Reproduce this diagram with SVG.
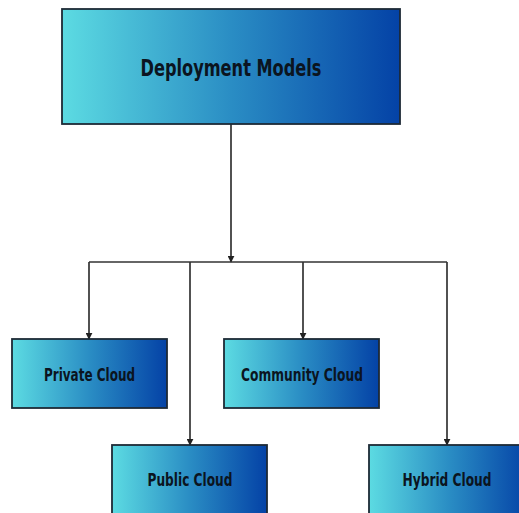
<svg xmlns="http://www.w3.org/2000/svg" width="519" height="513" viewBox="0 0 519 513">
<defs>
<linearGradient id="g" x1="0" y1="0" x2="1" y2="0">
<stop offset="0" stop-color="#5cdbe2"/>
<stop offset="0.5" stop-color="#2a8dc4"/>
<stop offset="1" stop-color="#0442a6"/>
</linearGradient>
<marker id="ah" viewBox="0 0 10 10" refX="9" refY="5" markerWidth="7" markerHeight="7" markerUnits="userSpaceOnUse" orient="auto">
<path d="M0,0 L10,5 L0,10 z" fill="#222"/>
</marker>
<style>
.box{fill:url(#g);stroke:#1d2a36;stroke-width:1.8}
.lbl{font-family:"DejaVu Sans Condensed","DejaVu Sans",sans-serif;font-weight:bold;fill:#0b1420;text-anchor:middle;dominant-baseline:central}
.c{fill:none;stroke:#333;stroke-width:1.7}
</style>
</defs>
<rect width="519" height="513" fill="#fff"/>
<g id="connectors">
<line class="c" x1="231" y1="124" x2="231" y2="262" marker-end="url(#ah)"/>
<line class="c" x1="89" y1="262" x2="447" y2="262"/>
<line class="c" x1="89" y1="262" x2="89" y2="339" marker-end="url(#ah)"/>
<line class="c" x1="303" y1="262" x2="303" y2="339" marker-end="url(#ah)"/>
<line class="c" x1="190" y1="262" x2="190" y2="445" marker-end="url(#ah)"/>
<line class="c" x1="447" y1="262" x2="447" y2="445" marker-end="url(#ah)"/>
</g>
<g id="deployment-models">
<rect class="box" x="62" y="9" width="338" height="115"/>
<text class="lbl" x="231" y="68" font-size="23" textLength="181" lengthAdjust="spacingAndGlyphs">Deployment Models</text>
</g>
<g id="private-cloud">
<rect class="box" x="12" y="339" width="155" height="69"/>
<text class="lbl" x="89.5" y="375" font-size="17.5" textLength="91" lengthAdjust="spacingAndGlyphs">Private Cloud</text>
</g>
<g id="community-cloud">
<rect class="box" x="224" y="339" width="155" height="69"/>
<text class="lbl" x="302" y="375" font-size="17.5" textLength="122" lengthAdjust="spacingAndGlyphs">Community Cloud</text>
</g>
<g id="public-cloud">
<rect class="box" x="112" y="445" width="155" height="75"/>
<text class="lbl" x="190" y="480" font-size="17.5" textLength="85" lengthAdjust="spacingAndGlyphs">Public Cloud</text>
</g>
<g id="hybrid-cloud">
<rect class="box" x="369" y="445" width="160" height="75"/>
<text class="lbl" x="447" y="480" font-size="17.5" textLength="89" lengthAdjust="spacingAndGlyphs">Hybrid Cloud</text>
</g>
</svg>
